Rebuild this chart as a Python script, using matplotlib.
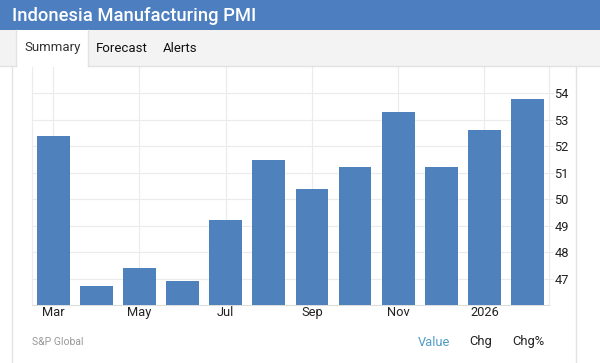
import matplotlib
matplotlib.use("Agg")
import matplotlib.pyplot as plt
from matplotlib.patches import Rectangle
from matplotlib.lines import Line2D

W, H = 600, 363

months = ["Mar", "Apr", "May", "Jun", "Jul", "Aug", "Sep", "Oct", "Nov", "Dec", "Jan", "Feb"]
pmi = [52.4, 46.7, 47.4, 46.9, 49.2, 51.5, 50.4, 51.2, 53.3, 51.2, 52.6, 53.8]
tick_idx = [0, 2, 4, 6, 8, 10]
tick_labels = ["Mar", "May", "Jul", "Sep", "Nov", "2026"]
y_ticks = [47, 48, 49, 50, 51, 52, 53, 54]

BAR = "#4f81bd"
GRID = "#ebebeb"
BORDER = "#e2e2e2"

plt.rcParams["font.family"] = ["Roboto", "DejaVu Sans"]


def fx(px):
    return px / W


def fy(py):
    return 1 - py / H


def rect(fig, x0, y0, x1, y1, color, z=0):
    fig.add_artist(Rectangle((fx(x0), fy(y1)), fx(x1 - x0), (y1 - y0) / H,
                             transform=fig.transFigure, facecolor=color,
                             edgecolor="none", zorder=z))


def line(fig, xs, ys, color=BORDER, lw=1.0, z=1):
    fig.add_artist(Line2D([fx(x) for x in xs], [fy(y) for y in ys],
                          transform=fig.transFigure, color=color, lw=lw, zorder=z))


fig = plt.figure(figsize=(6, 3.63), dpi=100)
fig.patch.set_facecolor("white")

# header + tabs
rect(fig, 0, 0, W, 30, "#4d7fc0")
fig.text(fx(12), fy(16), "Indonesia Manufacturing PMI", color="white",
         fontsize=13.2, fontweight="medium", va="center", ha="left")
rect(fig, 0, 30, W, 66, "#f3f3f3")
rect(fig, 16, 30, 88, 67, "white", z=1)
line(fig, [0, 16], [66, 66])
line(fig, [88, W], [66, 66])
line(fig, [16, 16], [30, 66])
line(fig, [88, 88], [30, 66])
fig.text(fx(24), fy(48), "Summary", fontsize=9.5, color="#333333", va="center")
fig.text(fx(96), fy(48), "Forecast", fontsize=9.5, color="#111111", va="center")
fig.text(fx(163), fy(48), "Alerts", fontsize=9.5, color="#111111", va="center")

# card borders
line(fig, [12, 12], [67, H])
line(fig, [576, 576], [67, H])

ax = fig.add_axes([fx(31.7), fy(305), fx(549 - 31.7), (305 - 67) / H])
x = list(range(len(months)))
ax.bar(x, [v - 46 for v in pmi], bottom=46, width=0.76, color=BAR, zorder=3)
ax.set_xlim(-0.5, 11.5)
ax.set_ylim(46, 55)

ax.set_xticks(tick_idx)
ax.set_xticklabels(tick_labels, fontsize=9.3, color="#222222")
ax.tick_params(axis="x", length=0, pad=1)
ax.yaxis.tick_right()
ax.set_yticks(y_ticks)
ax.set_yticklabels([str(t) for t in y_ticks], fontsize=9.3, color="#222222")
ax.tick_params(axis="y", length=3, color=GRID, pad=1)

ax.grid(True, color=GRID, lw=0.8, zorder=0)
ax.set_axisbelow(True)
ax.spines["top"].set_visible(False)
ax.spines["left"].set_color(GRID)
ax.spines["right"].set_color(GRID)
ax.spines["bottom"].set_color("#dddddd")

# footer
fig.text(fx(32), fy(342), "S&P Global", fontsize=7.5, color="#999999", va="center")
fig.text(fx(418), fy(342), "Value", fontsize=9.3, color="#4f9cc4", va="center")
fig.text(fx(469), fy(342), "Chg", fontsize=9.3, color="#222222", va="center")
fig.text(fx(512), fy(342), "Chg%", fontsize=9.3, color="#222222", va="center")

fig.savefig("out.png", dpi=100)
